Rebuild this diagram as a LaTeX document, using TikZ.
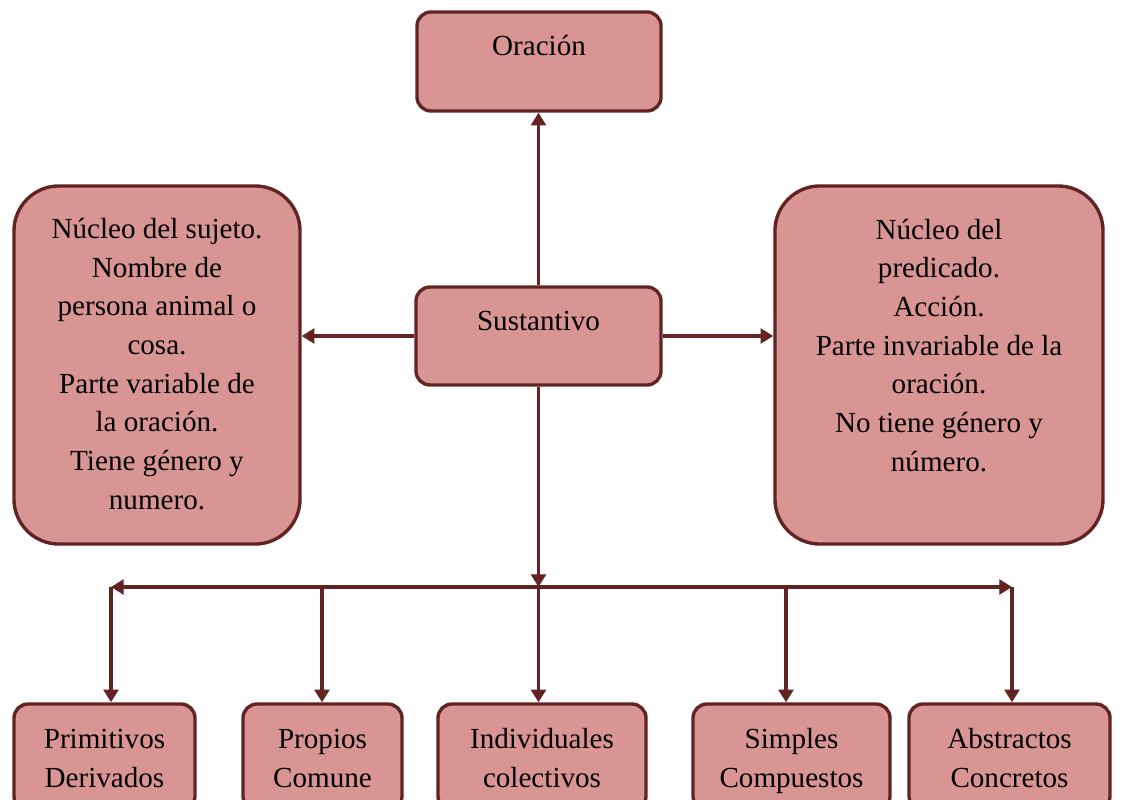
\documentclass[tikz,border=0pt]{standalone}
\usepackage{fontspec}
\setmainfont{Liberation Serif}
\usetikzlibrary{arrows.meta}

\definecolor{boxfill}{RGB}{217,149,148}
\definecolor{boxline}{RGB}{98,36,35}

\begin{document}
\begin{tikzpicture}[x=0.025cm, y=-0.025cm, font=\fontsize{20.7}{27.5}\selectfont]
    \tikzstyle{box}=[draw=boxline, fill=boxfill, line width=2.4pt, rounded corners=10pt, align=center, inner sep=0pt]
    \tikzstyle{bigbox}=[box, rounded corners=32pt]
    \tikzstyle{arr}=[draw=boxline, line width=2.4pt, -{Triangle[length=9pt, width=10.5pt]}]

    \useasboundingbox (0,0) rectangle (1128,800);

    \node[box, minimum width=6.1cm, text height=1.1cm, text depth=1.375cm] (oracion) at (539,61.5) {Oración};
    \node[box, minimum width=6.125cm, text height=1.075cm, text depth=1.375cm] (sustantivo) at (538.5,336) {Sustantivo};
    \node[bigbox, minimum width=7.15cm, text height=8.075cm, text depth=0.875cm] (sujeto) at (157,365)
        {Núcleo del sujeto.\\Nombre de\\persona animal o\\cosa.\\Parte variable de\\la oración.\\Tiene género y\\numero.};
    \node[bigbox, minimum width=8.2cm, text height=7.125cm, text depth=1.825cm] (predicado) at (939,365)
        {Núcleo del\\predicado.\\Acción.\\Parte invariable de la\\oración.\\No tiene género y\\número.};

    % clases del sustantivo
    \node[box, minimum width=4.525cm, text height=2.075cm, text depth=0.575cm] (primitivos) at (104.5,757) {Primitivos\\Derivados};
    \node[box, minimum width=3.975cm, text height=2.075cm, text depth=0.575cm] (propios) at (322.5,757) {Propios\\Comune};
    \node[box, minimum width=5.2cm, text height=2.075cm, text depth=0.575cm] (individuales) at (542,757) {Individuales\\colectivos};
    \node[box, minimum width=4.925cm, text height=2.075cm, text depth=0.575cm] (simples) at (791.5,757) {Simples\\Compuestos};
    \node[box, minimum width=5.025cm, text height=2.075cm, text depth=0.575cm] (abstractos) at (1009.5,757) {Abstractos\\Concretos};

    \draw[arr] (sustantivo.north) -- (sustantivo.north |- oracion.south);
    \draw[arr] (sustantivo.west) -- (sustantivo.west -| sujeto.east);
    \draw[arr] (sustantivo.east) -- (sustantivo.east -| predicado.west);

    \coordinate (hub) at (538.5,587);
    \coordinate (hubleft) at (111,587);
    \coordinate (hubright) at (1012,587);
    \draw[arr] (sustantivo.south) -- (hub);
    \draw[arr] (hub) -- (hubleft);
    \draw[arr] (hub) -- (hubright);

    \foreach \name/\xpos in {primitivos/111, propios/322, individuales/538.5, simples/786, abstractos/1012} {
        \coordinate (drop\name) at (\xpos,587);
        \draw[arr] (drop\name) -- (drop\name |- \name.north);
    }
\end{tikzpicture}
\end{document}
